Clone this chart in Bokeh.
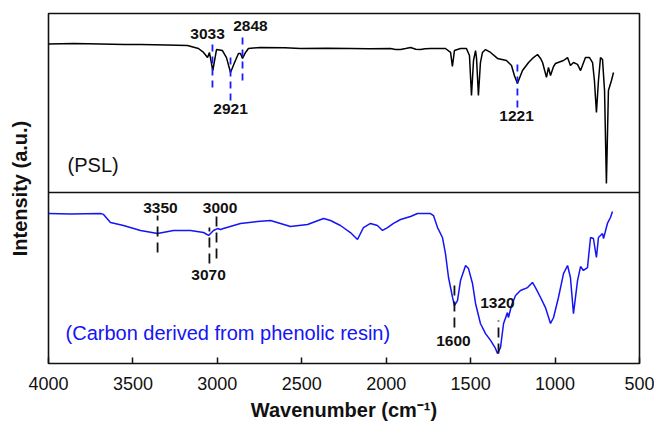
from bokeh.plotting import figure
from bokeh.models import Range1d, FixedTicker, Span
from bokeh.core.properties import value
from bokeh.embed import file_html
from bokeh.resources import INLINE

# ---------------- data ----------------
# PSL spectrum (wavenumber cm-1, intensity a.u.)
psl_wn = [4000, 3850, 3692, 3550, 3455, 3300, 3177, 3112, 3082, 3058, 3047, 3027, 3005,
          2970, 2946, 2922, 2898, 2875, 2863, 2851, 2833, 2816, 2745, 2600, 2508, 2350,
          2212, 2100, 1975, 1945, 1915, 1885, 1856, 1825, 1797, 1770, 1738, 1700, 1649,
          1619, 1608, 1596, 1560, 1525, 1507, 1495, 1483, 1471, 1465, 1454, 1442, 1430,
          1412, 1382, 1341, 1288, 1258, 1241, 1223, 1193, 1157, 1128, 1104, 1086, 1074,
          1051, 1039, 1027, 1009, 998, 950, 926, 909, 891, 867, 849, 820, 796, 778, 767,
          755, 743, 731, 719, 707, 696, 684, 666, 654]
psl_int = [0.868, 0.871, 0.869, 0.866, 0.865, 0.862, 0.860, 0.842, 0.819, 0.789, 0.819, 0.713, 0.836,
           0.830, 0.789, 0.702, 0.760, 0.813, 0.813, 0.784, 0.819, 0.842, 0.848, 0.846, 0.842, 0.843,
           0.842, 0.840, 0.842, 0.836, 0.836, 0.842, 0.848, 0.838, 0.836, 0.840, 0.842, 0.842, 0.842,
           0.819, 0.737, 0.830, 0.842, 0.842, 0.801, 0.567, 0.772, 0.830, 0.784, 0.567, 0.760, 0.819,
           0.836, 0.819, 0.784, 0.772, 0.743, 0.684, 0.637, 0.713, 0.760, 0.789, 0.807, 0.784, 0.760,
           0.673, 0.731, 0.684, 0.737, 0.754, 0.772, 0.789, 0.743, 0.760, 0.749, 0.713, 0.789, 0.789, 0.760, 0.655,
           0.468, 0.655, 0.789, 0.778, 0.596, 0.053, 0.596, 0.655, 0.702]

# Carbon derived from phenolic resin (wavenumber cm-1, intensity a.u.)
carbon_wn = [4000, 3870, 3692, 3674, 3633, 3556, 3455, 3354, 3260, 3159, 3082, 3052, 3023,
             2999, 2981, 2964, 2863, 2762, 2685, 2626, 2567, 2466, 2371, 2330, 2271, 2212,
             2170, 2135, 2093, 2052, 2022, 1992, 1957, 1915, 1856, 1815, 1738, 1720, 1696,
             1667, 1649, 1631, 1607, 1596, 1578, 1560, 1530, 1513, 1489, 1471, 1442, 1412,
             1382, 1353, 1341, 1323, 1305, 1282, 1276, 1258, 1234, 1205, 1163, 1134, 1116,
             1086, 1057, 1027, 1009, 980, 950, 926, 909, 891, 867, 849, 832, 808, 790, 773,
             755, 743, 719, 713, 690, 672, 660]
carbon_int = [0.877, 0.874, 0.877, 0.872, 0.825, 0.807, 0.778, 0.760, 0.778, 0.778, 0.766, 0.749, 0.778,
              0.789, 0.784, 0.789, 0.819, 0.830, 0.836, 0.819, 0.801, 0.813, 0.848, 0.836, 0.807, 0.766,
              0.725, 0.795, 0.819, 0.807, 0.778, 0.795, 0.819, 0.842, 0.860, 0.877, 0.877, 0.865, 0.795,
              0.737, 0.643, 0.503, 0.386, 0.339, 0.368, 0.485, 0.573, 0.556, 0.468, 0.351, 0.234, 0.175,
              0.135, 0.088, 0.058, 0.094, 0.234, 0.298, 0.269, 0.339, 0.398, 0.427, 0.444, 0.474, 0.444,
              0.386, 0.327, 0.234, 0.269, 0.386, 0.526, 0.573, 0.503, 0.292, 0.485, 0.567, 0.544, 0.561, 0.737, 0.731,
              0.620, 0.737, 0.760, 0.731, 0.819, 0.854, 0.889]

x_ticks = [4000, 3500, 3000, 2500, 2000, 1500, 1000, 500]

# peak labels and the wavenumbers they mark
psl_peak_labels = ["3033", "2921", "2848", "1221"]
psl_peak_wn = [3029, 2922, 2851, 1223]
carbon_peak_labels = ["3350", "3000", "3070", "1600", "1320"]
carbon_peak_wn = [3354, 3005, 3047, 1596, 1335]

# ---------------- layout / styling (not data) ----------------
PSL_OFFSET = 1.0  # stacking offset of the upper spectrum
FONT = "Liberation Sans"
BLUE = "#1414f5"

# (line y0, line y1, label x, label y) in plot units, per peak
psl_peak_layout = [(1.614, 1.877, 3058, 1.924),
                   (1.538, 1.801, 2922, 1.491),
                   (1.655, 1.918, 2804, 1.971),
                   (1.497, 1.760, 1228, 1.450)]
carbon_peak_layout = [(0.649, 0.865, 3337, 0.912),
                      (0.614, 0.865, 2984, 0.912),
                      (0.585, 0.795, 3052, 0.515),
                      (0.211, 0.474, 1602, 0.129),
                      (0.058, 0.251, 1341, 0.351)]

p = figure(width=654, height=425, output_backend="svg", toolbar_location=None,
           x_range=Range1d(4000, 500), y_range=Range1d(0, 350 / 171),
           min_border_left=48, min_border_right=15, min_border_top=13, min_border_bottom=62)
p.background_fill_color = "white"
p.border_fill_color = "white"
p.xgrid.visible = False
p.ygrid.visible = False
p.outline_line_color = "#111111"
p.outline_line_width = 1.6
p.outline_line_alpha = 1.0

# spectra
p.line(psl_wn, [v + PSL_OFFSET for v in psl_int], line_color="black", line_width=1.5)
p.line(carbon_wn, carbon_int, line_color=BLUE, line_width=1.5)

# panel divider
p.add_layout(Span(location=PSL_OFFSET, dimension="width", line_color="#111111", line_width=1.6))

# peak markers
p.segment(x0=psl_peak_wn, y0=[l[0] for l in psl_peak_layout],
          x1=psl_peak_wn, y1=[l[1] for l in psl_peak_layout],
          line_color="#1a1aff", line_width=1.8, line_dash="7 5")
p.text(x=[l[2] for l in psl_peak_layout], y=[l[3] for l in psl_peak_layout], text=psl_peak_labels,
       text_font=value(FONT), text_font_size="15.5px", text_font_style="bold",
       text_color="#111111", text_align="center", text_baseline="middle")
p.segment(x0=carbon_peak_wn, y0=[l[0] for l in carbon_peak_layout],
          x1=carbon_peak_wn, y1=[l[1] for l in carbon_peak_layout],
          line_color="#111111", line_width=1.8, line_dash="10 6")
p.text(x=[l[2] for l in carbon_peak_layout], y=[l[3] for l in carbon_peak_layout], text=carbon_peak_labels,
       text_font=value(FONT), text_font_size="15.5px", text_font_style="bold",
       text_color="#111111", text_align="center", text_baseline="middle")

# series names
p.text(x=[3887], y=[1.158], text=["(PSL)"], text_font=value(FONT), text_font_size="20px",
       text_color="#111111", text_align="left", text_baseline="middle")
p.text(x=[3899], y=[0.181], text=["(Carbon derived from phenolic resin)"], text_font=value(FONT),
       text_font_size="20px", text_color=BLUE, text_align="left", text_baseline="middle")

# x axis
xa = p.xaxis[0]
xa.ticker = FixedTicker(ticks=x_ticks)
xa.axis_line_color = None
xa.major_tick_in = 6
xa.major_tick_out = 0
xa.minor_tick_in = 0
xa.minor_tick_out = 0
xa.major_tick_line_color = "#111111"
xa.major_tick_line_width = 1.5
xa.major_label_text_font = FONT
xa.major_label_text_font_size = "18px"
xa.major_label_text_color = "#111111"
xa.major_label_standoff = 13
xa.axis_label = "Wavenumber (cm\u207b\u00b9)"
xa.axis_label_text_font = FONT
xa.axis_label_text_font_size = "20px"
xa.axis_label_text_font_style = "bold"
xa.axis_label_text_color = "#111111"
xa.axis_label_standoff = 6

# y axis
ya = p.yaxis[0]
ya.ticker = FixedTicker(ticks=[])
ya.axis_line_color = None
ya.major_tick_in = 0
ya.major_tick_out = 0
ya.minor_tick_in = 0
ya.minor_tick_out = 0
ya.major_label_standoff = 0
ya.axis_label = "Intensity (a.u.)"
ya.axis_label_text_font = FONT
ya.axis_label_text_font_size = "20px"
ya.axis_label_text_font_style = "bold"
ya.axis_label_text_color = "#111111"
ya.axis_label_standoff = 18

open("out.html", "w").write(file_html(p, INLINE))
